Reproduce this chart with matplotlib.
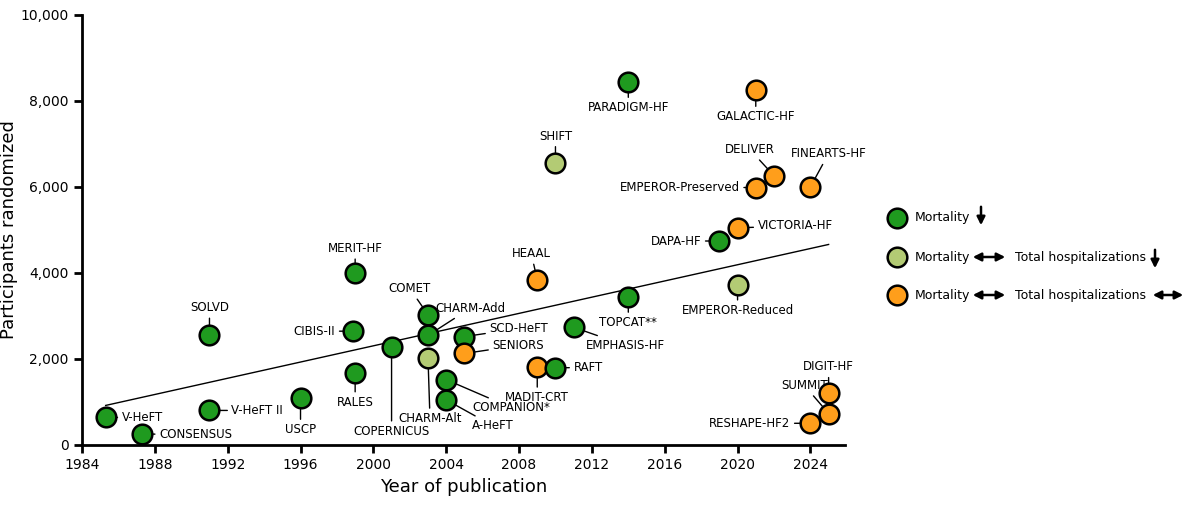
import matplotlib
matplotlib.use("Agg")
import matplotlib.pyplot as plt
import numpy as np

names = ["V-HeFT","CONSENSUS","SOLVD","V-HeFT II","USCP","CIBIS-II","MERIT-HF","RALES","COPERNICUS",
         "COMET","CHARM-Add","CHARM-Alt","SCD-HeFT","SENIORS","COMPANION*","A-HeFT","HEAAL","MADIT-CRT",
         "RAFT","SHIFT","EMPHASIS-HF","TOPCAT**","PARADIGM-HF","DAPA-HF","VICTORIA-HF","EMPEROR-Reduced",
         "EMPEROR-Preserved","DELIVER","GALACTIC-HF","FINEARTS-HF","DIGIT-HF","SUMMIT","RESHAPE-HF2"]
years = [1985.3,1987.3,1991,1991,1996,1998.9,1999,1999,2001,
         2003,2003,2003,2005,2005,2004,2004,2009,2009,
         2010,2010,2011,2014,2014,2019,2020,2020,
         2021,2022,2021,2024,2025,2025,2024]
participants = [642,253,2569,804,1094,2647,3991,1663,2289,
                3029,2548,2028,2521,2128,1520,1050,3846,1820,
                1798,6558,2737,3445,8442,4744,5050,3730,
                5988,6263,8256,6001,1212,731,505]
# outcome: 0 mortality reduced, 1 total hosp reduced, 2 neutral
outcome = [0,0,0,0,0,0,0,0,0,
           0,0,1,0,2,0,0,2,2,
           0,1,0,0,0,0,2,1,
           2,2,2,2,2,2,2]
colors = {0:"#1f9a1f",1:"#b3cb74",2:"#ff9e1b"}
offs = {"V-HeFT":(16,0,"left"),"CONSENSUS":(17,0,"left"),"SOLVD":(0,27,"center"),
        "V-HeFT II":(22,0,"left"),"USCP":(0,-32,"center"),"CIBIS-II":(-18,0,"right"),
        "MERIT-HF":(0,25,"center"),"RALES":(0,-29,"center"),"COPERNICUS":(0,-85,"center"),
        "COMET":(-18,26,"center"),"CHARM-Add":(42,27,"center"),"CHARM-Alt":(2,-61,"center"),
        "SCD-HeFT":(25,8,"left"),"SENIORS":(28,8,"left"),"COMPANION*":(26,-28,"left"),
        "A-HeFT":(26,-26,"left"),"HEAAL":(-6,26,"center"),"MADIT-CRT":(0,-31,"center"),
        "RAFT":(18,0,"left"),"SHIFT":(0,27,"center"),"EMPHASIS-HF":(12,-18,"left"),
        "TOPCAT**":(0,-26,"center"),"PARADIGM-HF":(0,-26,"center"),"DAPA-HF":(-18,0,"right"),
        "VICTORIA-HF":(20,2,"left"),"EMPEROR-Reduced":(0,-26,"center"),
        "EMPEROR-Preserved":(-16,0,"right"),"DELIVER":(-24,26,"center"),
        "GALACTIC-HF":(0,-27,"center"),"FINEARTS-HF":(18,33,"center"),
        "DIGIT-HF":(0,26,"center"),"SUMMIT":(-24,28,"center"),"RESHAPE-HF2":(-20,0,"right")}

fig = plt.figure(figsize=(12,5.08), dpi=100)
ax = fig.add_axes([82/1200, 1-445/508, (845-82)/1200, (445-15)/508])
for n,x,y,o in zip(names,years,participants,outcome):
    ax.scatter(x,y,s=200,color=colors[o],edgecolor="black",linewidth=1.8,zorder=3)
    dx,dy,ha = offs[n]
    ax.annotate(n,(x,y),xytext=(dx,dy),textcoords="offset pixels",ha=ha,va="center",fontsize=8.5,
                arrowprops=dict(arrowstyle="-",color="black",lw=1,shrinkA=1,shrinkB=7),zorder=2)
b,a = np.polyfit(years,participants,1)
xs = np.array([min(years),2025])
ax.plot(xs,a+b*xs,color="black",lw=1,zorder=1)
ax.set_xlim(1984,2025.9); ax.set_ylim(0,10000)
ax.set_xticks(range(1984,2025,4))
ax.set_yticks(range(0,10001,2000))
ax.set_yticklabels([f"{v:,}" for v in range(0,10001,2000)])
for s in ["top","right"]: ax.spines[s].set_visible(False)
for s in ["left","bottom"]: ax.spines[s].set_linewidth(2)
ax.tick_params(width=2,length=6,labelsize=10)
ax.set_xlabel("Year of publication",fontsize=13)
ax.set_ylabel("Participants randomized",fontsize=13,labelpad=2)

lg = fig.add_axes([0,0,1,1]); lg.set_xlim(0,1200); lg.set_ylim(508,0); lg.axis("off")
rows = [(218,0),(257,1),(295,2)]
for y,o in rows:
    lg.scatter(897,y,s=200,color=colors[o],edgecolor="black",linewidth=1.8)
    lg.text(915,y,"Mortality",va="center",fontsize=9)
def varrow(x,y):
    lg.annotate("",xy=(x,y+12),xytext=(x,y-12),arrowprops=dict(arrowstyle="-|>",lw=1.8,color="black",mutation_scale=12))
def harrow(x1,x2,y):
    lg.annotate("",xy=(x2,y),xytext=(x1,y),arrowprops=dict(arrowstyle="<|-|>",lw=1.8,color="black",mutation_scale=12))
varrow(981,216)
harrow(970,1008,257); lg.text(1015,257,"Total hospitalizations",va="center",fontsize=9); varrow(1155,259)
harrow(970,1008,295); lg.text(1015,295,"Total hospitalizations",va="center",fontsize=9); harrow(1150,1186,295)
fig.savefig("out.png",dpi=100)
